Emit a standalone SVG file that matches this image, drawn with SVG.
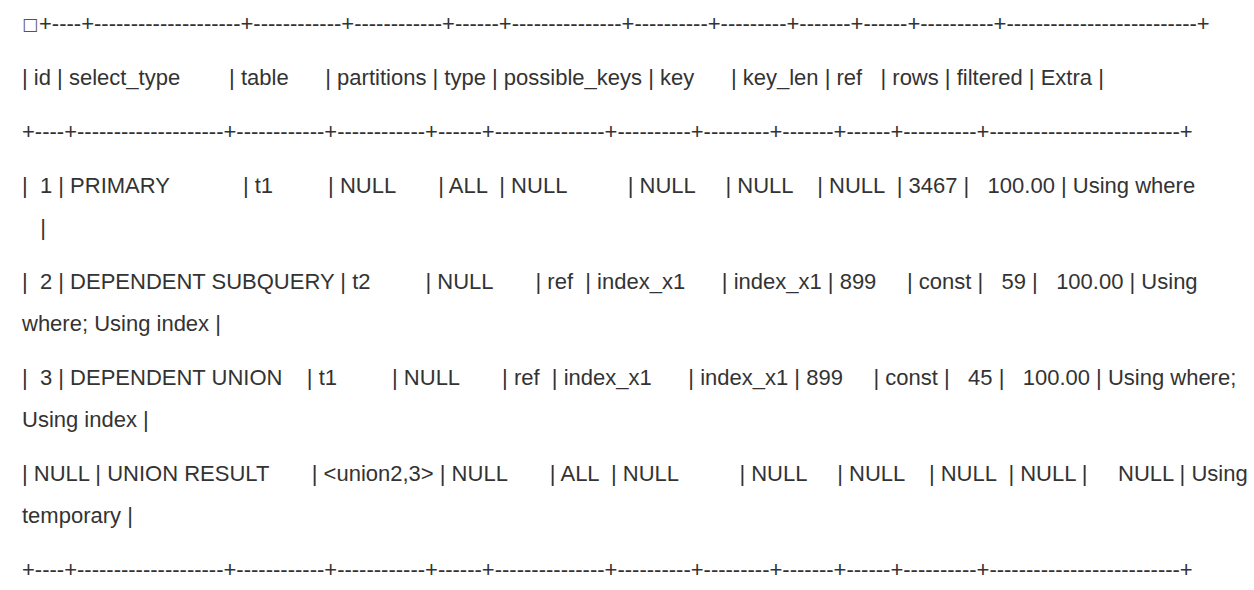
<svg xmlns="http://www.w3.org/2000/svg" width="1254" height="590" viewBox="0 0 1254 590">
<style>
  .t { font-family: "Liberation Sans", Arial, sans-serif; font-size: 22px; fill: #333333; white-space: pre; }
  .box { font-family: "DejaVu Sans", sans-serif; font-size: 17px; fill: #555555; }
</style>
<rect width="1254" height="590" fill="#ffffff"/>
<g id="table-text" xml:space="preserve">
  <g id="line-top"><text class="t" y="31"><tspan class="box" x="22" y="30">□</tspan><tspan x="39" y="31">+----+--------------------+------------+------------+------+---------------+----------+---------+-------+------+----------+--------------------------+</tspan></text></g>
  <g id="line-header"><text class="t" x="22" y="85">| id | select_type        | table      | partitions | type | possible_keys | key      | key_len | ref   | rows | filtered | Extra |</text></g>
  <g id="line-sep"><text class="t" x="22" y="139">+----+--------------------+------------+------------+------+---------------+----------+---------+-------+------+----------+--------------------------+</text></g>
  <g id="row-1">
    <text class="t" x="22" y="193">|  1 | PRIMARY            | t1         | NULL       | ALL  | NULL          | NULL     | NULL    | NULL  | 3467 |   100.00 | Using where</text>
    <text class="t" x="22" y="235">   |</text>
  </g>
  <g id="row-2">
    <text class="t" x="22" y="289">|  2 | DEPENDENT SUBQUERY | t2         | NULL       | ref  | index_x1      | index_x1 | 899     | const |   59 |   100.00 | Using</text>
    <text class="t" x="22" y="331">where; Using index |</text>
  </g>
  <g id="row-3">
    <text class="t" x="22" y="385">|  3 | DEPENDENT UNION    | t1         | NULL       | ref  | index_x1      | index_x1 | 899     | const |   45 |   100.00 | Using where;</text>
    <text class="t" x="22" y="427">Using index |</text>
  </g>
  <g id="row-4">
    <text class="t" x="22" y="481">| NULL | UNION RESULT       | &lt;union2,3&gt; | NULL       | ALL  | NULL          | NULL     | NULL    | NULL  | NULL |     NULL | Using</text>
    <text class="t" x="22" y="523">temporary |</text>
  </g>
  <g id="line-bottom"><text class="t" x="22" y="577">+----+--------------------+------------+------------+------+---------------+----------+---------+-------+------+----------+--------------------------+</text></g>
</g>
<g id="connectors"/>
</svg>
